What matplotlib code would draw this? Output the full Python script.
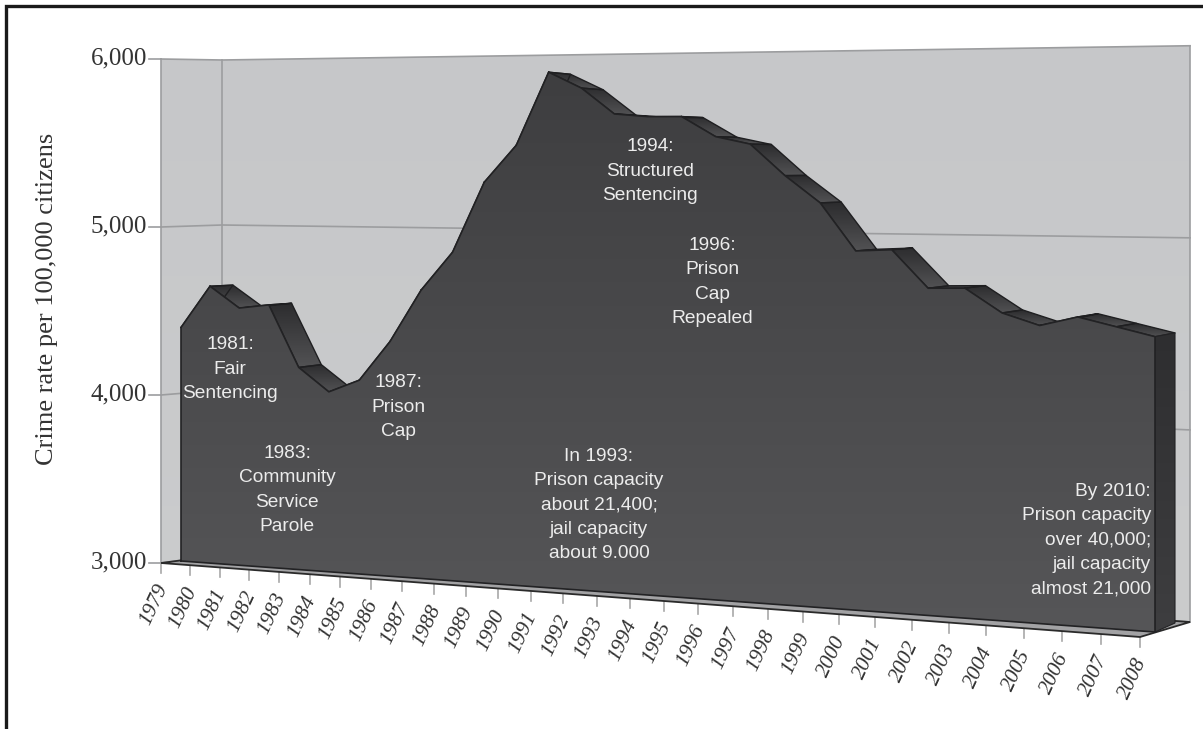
import matplotlib
matplotlib.use('Agg')
import matplotlib.pyplot as plt
from matplotlib.colors import LinearSegmentedColormap
from matplotlib.transforms import Transform
import numpy as np

years = list(range(1979, 2009))
crime_rate = [4390, 4640, 4516, 4540, 4180, 4045, 4120, 4350, 4650, 4870,
              5270, 5480, 5890, 5800, 5655, 5640, 5640, 5530, 5490, 5320,
              5175, 4920, 4930, 4730, 4735, 4610, 4550, 4600, 4555, 4510]
y_ticks = [3000, 4000, 5000, 6000]
y_tick_labels = ['3,000', '4,000', '5,000', '6,000']

notes = ['1981:\nFair\nSentencing',
         '1983:\nCommunity\nService\nParole',
         '1987:\nPrison\nCap',
         'In 1993:\nPrison capacity\nabout 21,400;\njail capacity\nabout 9.000',
         '1994:\nStructured\nSentencing',
         '1996:\nPrison\nCap\nRepealed',
         'By 2010:\nPrison capacity\nover 40,000;\njail capacity\nalmost 21,000']
note_x = [230, 287, 398, 599, 650, 712, 1151]
note_y = [369, 490, 407, 505, 171, 282, 540]
note_ha = ['center', 'center', 'center', 'center', 'center', 'center', 'right']

# the perspective shrink across the chart
SHRINK = -0.141


class Plane(Transform):
    # maps (year, value) onto one upright plane of the 3d box, in image pixels
    input_dims = 2
    output_dims = 2

    def __init__(self, x0, y0, x1, y1, s0):
        super().__init__()
        self.x0, self.y0, self.x1, self.y1, self.s0 = x0, y0, x1, y1, s0

    def transform_non_affine(self, xy):
        xy = np.asarray(xy, dtype=float)
        t = (xy[:, 0] - 1979) / 29
        v = (xy[:, 1] - 3000) / 1000
        w = 1 + SHRINK * t
        x = (self.x0 + (self.x1 * (1 + SHRINK) - self.x0) * t) / w
        y = (self.y0 + (self.y1 * (1 + SHRINK) - self.y0) * t - self.s0 * v) / w
        return np.column_stack([x, y])


front = Plane(181, 561, 1155, 632, 168)
back = Plane(204, 555, 1175, 623, 165)
floor_edge = Plane(161, 563, 1140, 637, 168)
wall = Plane(222, 555, 1190, 622, 165)

fig = plt.figure(figsize=(12.03, 7.29), dpi=100)
ax = fig.add_axes([0, 0, 1, 1])
ax.set_autoscale_on(False)
ax.axis('off')

face_cmap = LinearSegmentedColormap.from_list('face', ['#3e3e40', '#565658'])
top_cmap = LinearSegmentedColormap.from_list('top', ['#2c2c2e', '#525254'])
side_cmap = LinearSegmentedColormap.from_list('side', ['#2e2e30', '#3e3e40'])
grad = np.linspace(0, 1, 256).reshape(-1, 1)


def gradient_fill(pts, cmap, z, edge=None, lw=1.0):
    pts = np.asarray(pts)
    patch = ax.fill(pts[:, 0], pts[:, 1], facecolor='none', edgecolor='none', zorder=z)[0]
    im = ax.imshow(grad, cmap=cmap, aspect='auto', zorder=z,
                   extent=(pts[:, 0].min(), pts[:, 0].max(), pts[:, 1].max(), pts[:, 1].min()))
    im.set_clip_path(patch)
    if edge:
        ax.plot(np.r_[pts[:, 0], pts[0, 0]], np.r_[pts[:, 1], pts[0, 1]],
                color=edge, lw=lw, zorder=z + 0.1, solid_joinstyle='round')


# box walls
left_top = floor_edge.transform([[1979, 6000], [1979, 3000]])
back_pts = wall.transform([[1979, 3000], [1979, 6000], [2008, 6000], [2008, 3000]])
walls = np.vstack([left_top, back_pts[[0]], back_pts[[3]], back_pts[[2]], back_pts[[1]]])
gradient_fill(walls, LinearSegmentedColormap.from_list('w', ['#c6c7c9', '#cbcccd']), 1)
grid_col = '#9c9d9f'
for v in y_ticks:
    a = floor_edge.transform([[1979, v]])[0]
    b = wall.transform([[1979, v], [2008, v]])
    ax.plot([a[0], b[0, 0], b[1, 0]], [a[1], b[0, 1], b[1, 1]], color=grid_col, lw=1.2, zorder=2)
    ax.plot([a[0] - 12, a[0]], [a[1], a[1]], color=grid_col, lw=1.2, zorder=2)
for pts in [left_top, wall.transform([[1979, 3000], [1979, 6000]]), wall.transform([[2008, 3000], [2008, 6000]])]:
    ax.plot(pts[:, 0], pts[:, 1], color=grid_col, lw=1.2, zorder=2)

# floor
floor_pts = np.vstack([floor_edge.transform([[1979, 3000], [2008, 3000]]),
                       wall.transform([[2008, 3000], [1979, 3000]])])
ax.fill(floor_pts[:, 0], floor_pts[:, 1], facecolor='#a2a2a4', edgecolor='#2a2a2a', lw=1.3, zorder=3)

# top of the area, one piece per year
front_pts = front.transform(np.column_stack([years, crime_rate]))
back_pts2 = back.transform(np.column_stack([years, crime_rate]))
for i in range(len(years) - 1):
    quad = [front_pts[i], front_pts[i + 1], back_pts2[i + 1], back_pts2[i]]
    gradient_fill(quad, top_cmap, 4, edge='#1f1f21', lw=1.0)

# right end of the area
end = np.vstack([front.transform([[2008, 3000], [2008, crime_rate[-1]]]),
                 back.transform([[2008, crime_rate[-1]], [2008, 3000]])])
gradient_fill(end, side_cmap, 5, edge='#232325', lw=0.8)

# front of the area
face = np.vstack([front.transform([[1979, 3000]]), front_pts, front.transform([[2008, 3000]])])
gradient_fill(face, face_cmap, 6, edge='#222224', lw=1.2)

# year ticks and labels
for yr in years:
    p = floor_edge.transform([[yr, 3000]])[0]
    ax.plot([p[0], p[0]], [p[1], p[1] + 10], color='#a8a8a8', lw=1.2, zorder=2)
    ax.text(p[0] - 7, p[1] + 42, str(yr), rotation=65, ha='center', va='center',
            family='Liberation Serif', style='italic', fontsize=15.5, color='#333333', zorder=7)

for v, lab in zip(y_ticks, y_tick_labels):
    p = floor_edge.transform([[1979, v]])[0]
    ax.text(p[0] - 14, p[1] - 1, lab, ha='right', va='center', family='Liberation Serif',
            fontsize=18, color='#333333', zorder=7)

ax.text(47, 299, 'Crime rate per 100,000 citizens', rotation=90, ha='center', va='center',
        family='Liberation Serif', fontsize=19, color='#333333', zorder=7)

for s, x, y, ha in zip(notes, note_x, note_y, note_ha):
    ax.text(x, y, s, ha=ha, va='center', multialignment=ha, linespacing=1.56, color='#ececec',
            family='Liberation Sans', fontsize=13.8, zorder=8)

# outer frame, only top and left are in the picture
ax.plot([5.5, 5.5, 1203], [729, 5.5, 5.5], color='#1a1a1a', lw=2.4, zorder=9, solid_joinstyle='miter')

ax.set_xlim(0, 1203)
ax.set_ylim(729, 0)
fig.savefig('out.png', dpi=100)
